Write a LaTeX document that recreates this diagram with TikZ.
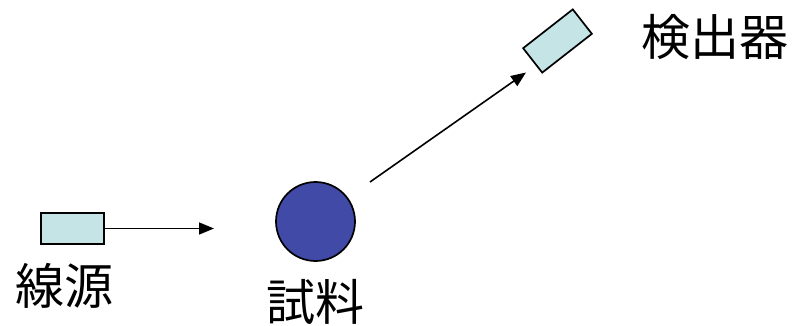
\documentclass[tikz,border=0pt]{standalone}
\usepackage{fontspec}
\newfontfamily\cjk{Noto Sans CJK JP}
\usetikzlibrary{arrows.meta}
\definecolor{boxfill}{HTML}{C4E4E6}
\definecolor{ballfill}{HTML}{414AA6}
\tikzset{
  part/.style={draw=black, line width=1.7pt, fill=boxfill, minimum width=63pt, minimum height=31pt, inner sep=0pt},
  ball/.style={circle, draw=black, line width=1.7pt, fill=ballfill, minimum size=79pt, inner sep=0pt},
  lbl/.style={font=\cjk\fontsize{49}{58}\selectfont, inner sep=0pt},
  ray/.style={line width=1.6pt, -{Triangle[length=15pt,width=12pt]}}
}
\begin{document}
\begin{tikzpicture}[x=1pt,y=-1pt]
\useasboundingbox (0,0) rectangle (792,326);
\node[part] (src) at (72.5,228.5) {};
\node[lbl] (srclbl) at (64,286) {線源};
\node[ball] (smp) at (315.5,221.5) {};
\node[lbl] (smplbl) at (315,302) {試料};
\node[part, rotate=38] (det) at (557.5,41) {};
\node[lbl] (detlbl) at (715,37) {検出器};
\coordinate (inc) at (214,228.5);
\coordinate (scs) at (370,182);
\coordinate (sce) at (526,72.5);
\draw[ray] (src.east) -- (inc);
\draw[ray] (scs) -- (sce);
\end{tikzpicture}
\end{document}
